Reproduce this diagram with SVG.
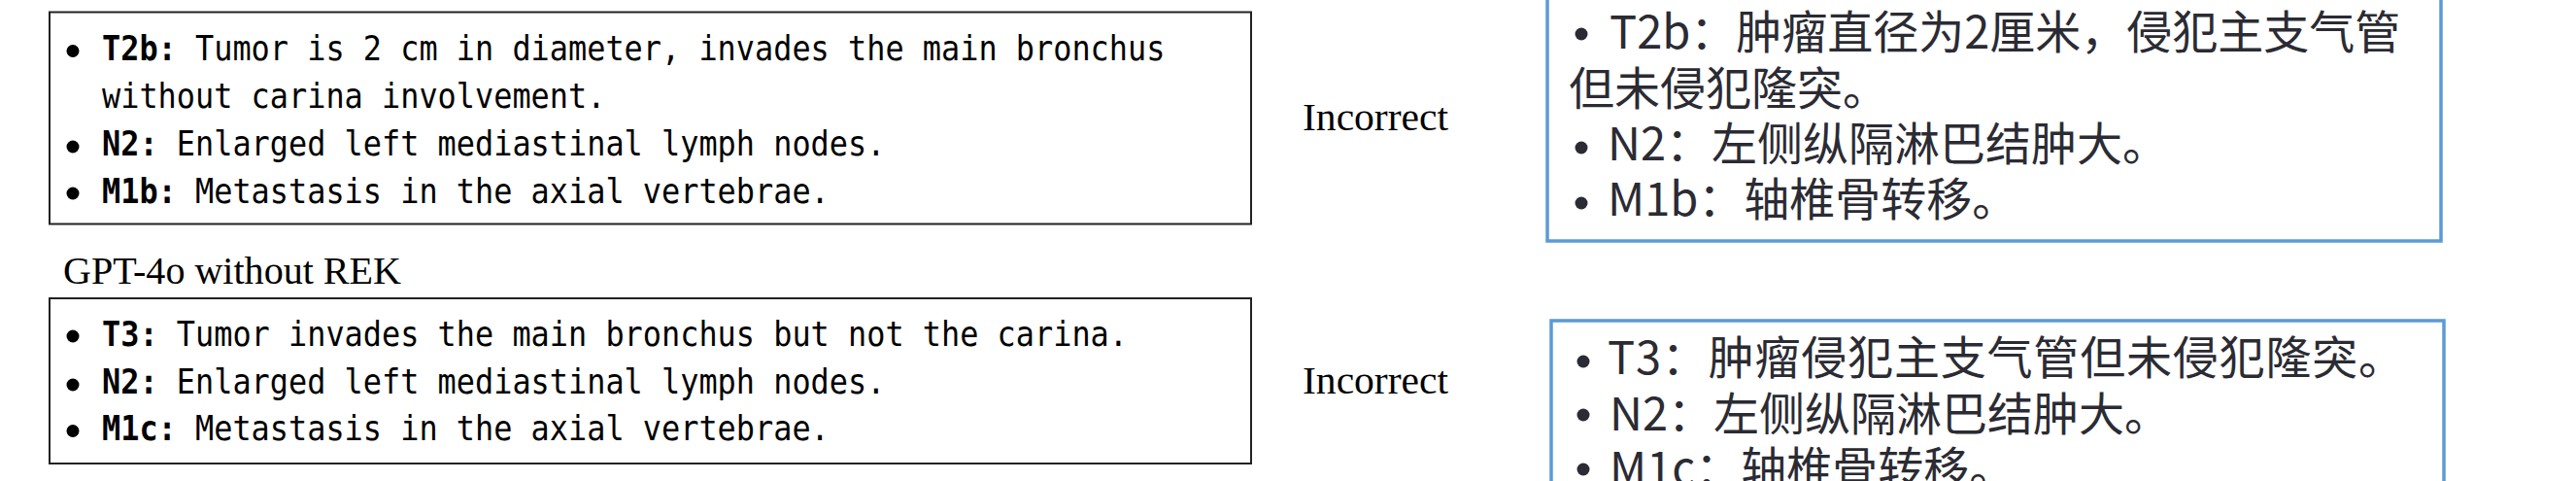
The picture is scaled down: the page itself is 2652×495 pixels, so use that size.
<svg xmlns="http://www.w3.org/2000/svg" width="2652" height="495" viewBox="0 0 2652 495">
<style>
.lbox{fill:#fff;stroke:#222;stroke-width:2}
.rbox{fill:#fff;stroke:#5b9bd5;stroke-width:3.5}
.mono{font-family:"DejaVu Sans Mono","Liberation Mono",monospace;font-size:35px;fill:#000}
.b{font-weight:bold}
.serif{font-family:"Liberation Serif","Times New Roman",serif;font-size:40px;fill:#000}
.cjk{font-family:"Noto Sans CJK SC","Noto Sans",sans-serif;font-size:47px;fill:#2b2b33}
.dot{fill:#000}
.rdot{fill:#2b2b33}
</style>
<rect width="2652" height="495" fill="#fff"/>
<g id="connectors"></g>

<g id="left-box-1">
<rect class="lbox" x="51" y="12.5" width="1237" height="218"/>
<circle class="dot" cx="75" cy="52.5" r="6.5"/>
<text class="mono b" x="105" y="62" textLength="76.8" lengthAdjust="spacingAndGlyphs">T2b:</text>
<text class="mono" x="181.8" y="62" textLength="1017.6" lengthAdjust="spacingAndGlyphs" xml:space="preserve"> Tumor is 2 cm in diameter, invades the main bronchus</text>
<text class="mono" x="105" y="110.5" textLength="518.4" lengthAdjust="spacingAndGlyphs">without carina involvement.</text>
<circle class="dot" cx="75" cy="151" r="6.5"/>
<text class="mono b" x="105" y="160" textLength="57.6" lengthAdjust="spacingAndGlyphs">N2:</text>
<text class="mono" x="162.6" y="160" textLength="748.8" lengthAdjust="spacingAndGlyphs" xml:space="preserve"> Enlarged left mediastinal lymph nodes.</text>
<circle class="dot" cx="75" cy="199" r="6.5"/>
<text class="mono b" x="105" y="208.5" textLength="76.8" lengthAdjust="spacingAndGlyphs">M1b:</text>
<text class="mono" x="181.8" y="208.5" textLength="672" lengthAdjust="spacingAndGlyphs" xml:space="preserve"> Metastasis in the axial vertebrae.</text>
</g>

<g id="label-gpt4o">
<text class="serif" x="65" y="292" textLength="348" lengthAdjust="spacingAndGlyphs">GPT-4o without REK</text>
</g>

<g id="left-box-2">
<rect class="lbox" x="51" y="307" width="1237" height="170"/>
<circle class="dot" cx="75" cy="346" r="6.5"/>
<text class="mono b" x="105" y="355.5" textLength="57.6" lengthAdjust="spacingAndGlyphs">T3:</text>
<text class="mono" x="162.6" y="355.5" textLength="998.4" lengthAdjust="spacingAndGlyphs" xml:space="preserve"> Tumor invades the main bronchus but not the carina.</text>
<circle class="dot" cx="75" cy="396" r="6.5"/>
<text class="mono b" x="105" y="405" textLength="57.6" lengthAdjust="spacingAndGlyphs">N2:</text>
<text class="mono" x="162.6" y="405" textLength="748.8" lengthAdjust="spacingAndGlyphs" xml:space="preserve"> Enlarged left mediastinal lymph nodes.</text>
<circle class="dot" cx="75" cy="443.5" r="6.5"/>
<text class="mono b" x="105" y="453" textLength="76.8" lengthAdjust="spacingAndGlyphs">M1c:</text>
<text class="mono" x="181.8" y="453" textLength="672" lengthAdjust="spacingAndGlyphs" xml:space="preserve"> Metastasis in the axial vertebrae.</text>
</g>

<g id="verdict-1">
<text class="serif" x="1341" y="134" textLength="150" lengthAdjust="spacingAndGlyphs">Incorrect</text>
</g>
<g id="verdict-2">
<text class="serif" x="1341" y="405" textLength="150" lengthAdjust="spacingAndGlyphs">Incorrect</text>
</g>

<g id="right-box-1">
<rect class="rbox" x="1593" y="-10" width="920" height="258"/>
<circle class="rdot" cx="1628" cy="35" r="6.5"/>
<text class="cjk" x="1657" y="50">T2b：肿瘤直径为2厘米，侵犯主支气管</text>
<text class="cjk" x="1615" y="108">但未侵犯隆突。</text>
<circle class="rdot" cx="1628" cy="152" r="6.5"/>
<text class="cjk" x="1655" y="165">N2：左侧纵隔淋巴结肿大。</text>
<circle class="rdot" cx="1628" cy="209" r="6.5"/>
<text class="cjk" x="1655" y="222">M1b：轴椎骨转移。</text>
</g>

<g id="right-box-2">
<rect class="rbox" x="1597" y="330" width="919" height="200"/>
<circle class="rdot" cx="1630" cy="372" r="6.5"/>
<text class="cjk" x="1655" y="385" textLength="820" lengthAdjust="spacing">T3：肿瘤侵犯主支气管但未侵犯隆突。</text>
<circle class="rdot" cx="1630" cy="427" r="6.5"/>
<text class="cjk" x="1657" y="443">N2：左侧纵隔淋巴结肿大。</text>
<circle class="rdot" cx="1630" cy="483" r="6.5"/>
<text class="cjk" x="1657" y="499">M1c：轴椎骨转移。</text>
</g>
</svg>
